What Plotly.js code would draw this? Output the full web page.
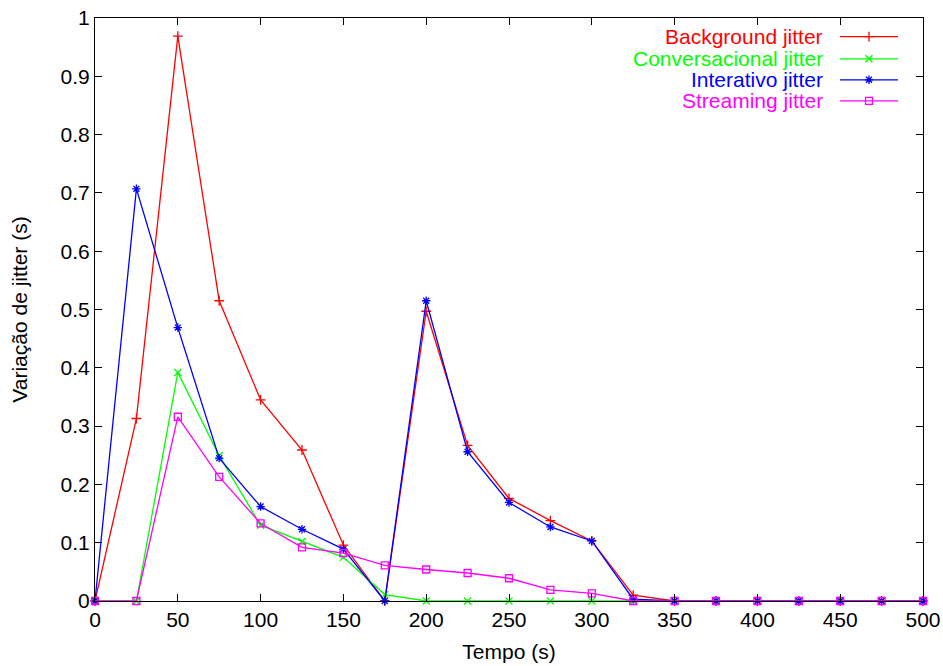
<!DOCTYPE html>
<html>
<head>
<meta charset="utf-8">
<script src="https://cdn.plot.ly/plotly-3.0.1.min.js"></script>
<style>html,body{margin:0;padding:0;background:#fff;}#chart{width:943px;height:666px;}</style>
</head>
<body>
<div id="chart"></div>
<script>
const tempo = [0, 25, 50, 75, 100, 125, 150, 175, 200, 225, 250, 275, 300, 325, 350, 375, 400, 425, 450, 475, 500];
const background = [0, 0.313, 0.969, 0.515, 0.345, 0.259, 0.096, 0, 0.497, 0.267, 0.176, 0.138, 0.103, 0.010, 0, 0, 0, 0, 0, 0, 0];
const conversacional = [0, 0, 0.392, 0.249, 0.130, 0.102, 0.075, 0.011, 0, 0, 0, 0, 0, 0, 0, 0, 0, 0, 0, 0, 0];
const interativo = [0, 0.707, 0.469, 0.245, 0.162, 0.123, 0.089, 0, 0.515, 0.256, 0.169, 0.127, 0.103, 0.003, 0, 0, 0, 0, 0, 0, 0];
const streaming = [0, 0, 0.316, 0.213, 0.133, 0.092, 0.082, 0.061, 0.054, 0.048, 0.039, 0.019, 0.013, 0, 0, 0, 0, 0, 0, 0, 0];
const seriesNames = ["Background jitter", "Conversacional jitter", "Interativo jitter", "Streaming jitter"];
const seriesColors = ["#ff0000", "#00ff00", "#0000ff", "#ff00ff"];
const seriesSymbols = ["cross-thin", "x-thin", "asterisk", "square-open"];
const seriesData = [background, conversacional, interativo, streaming];

const FONT = "Liberation Sans, Arial, Helvetica, sans-serif";
const FS = 21;
const MS = 7;

const traces = seriesData.map((d, i) => ({
  x: tempo, y: d, type: "scatter", mode: "lines+markers", name: seriesNames[i],
  line: {color: seriesColors[i], width: 1.3},
  marker: {symbol: seriesSymbols[i], size: MS, color: seriesColors[i],
           line: {color: seriesColors[i], width: 1.3}},
  showlegend: false, cliponaxis: false
}));

// custom gnuplot-style legend (text left, key right)
const legRowY = [0.968, 0.930, 0.894, 0.858];
const keyX0 = 0.8998, keyX1 = 0.9698, keyXm = 0.9348, textX = 0.8816;
const shapes = [];
const annotations = [];
seriesNames.forEach((n, i) => {
  shapes.push({type: "line", xref: "paper", yref: "paper", x0: keyX0, x1: keyX1,
    y0: legRowY[i], y1: legRowY[i], line: {color: seriesColors[i], width: 1.3}});
  annotations.push({xref: "paper", yref: "paper", x: textX, y: legRowY[i], xanchor: "right",
    yanchor: "middle", text: n, showarrow: false, font: {family: FONT, size: FS, color: seriesColors[i]}});
  traces.push({x: [keyXm], y: [legRowY[i]], xaxis: "x2", yaxis: "y2", type: "scatter", mode: "markers",
    marker: {symbol: seriesSymbols[i], size: MS, color: seriesColors[i], line: {color: seriesColors[i], width: 1.3}},
    showlegend: false, hoverinfo: "skip"});
});

const layout = {
  width: 943, height: 666,
  margin: {l: 95, r: 20, t: 18, b: 65},
  paper_bgcolor: "#fff", plot_bgcolor: "#fff",
  font: {family: FONT, size: FS, color: "#000"},
  showlegend: false,
  xaxis: {
    range: [0, 500], tick0: 0, dtick: 50, showgrid: false, zeroline: false,
    showline: true, linecolor: "#000", linewidth: 1, mirror: "allticks",
    ticks: "inside", ticklen: 7, tickcolor: "#000", tickwidth: 1,
    tickfont: {family: FONT, size: FS, color: "#000"},
    title: {text: "Tempo (s)", font: {family: FONT, size: FS, color: "#000"}, standoff: 14}
  },
  yaxis: {
    range: [0, 1], tick0: 0, dtick: 0.1, showgrid: false, zeroline: false,
    showline: true, linecolor: "#000", linewidth: 1, mirror: "allticks",
    ticks: "inside", ticklen: 7, tickcolor: "#000", tickwidth: 1,
    tickfont: {family: FONT, size: FS, color: "#000"},
    title: {text: "Variação de jitter (s)", font: {family: FONT, size: FS, color: "#000"}, standoff: 27}
  },
  xaxis2: {range: [0, 1], overlaying: "x", visible: false, fixedrange: true},
  yaxis2: {range: [0, 1], overlaying: "y", visible: false, fixedrange: true},
  shapes: shapes,
  annotations: annotations
};

Plotly.newPlot("chart", traces, layout, {displayModeBar: false, staticPlot: true});
</script>
</body>
</html>
